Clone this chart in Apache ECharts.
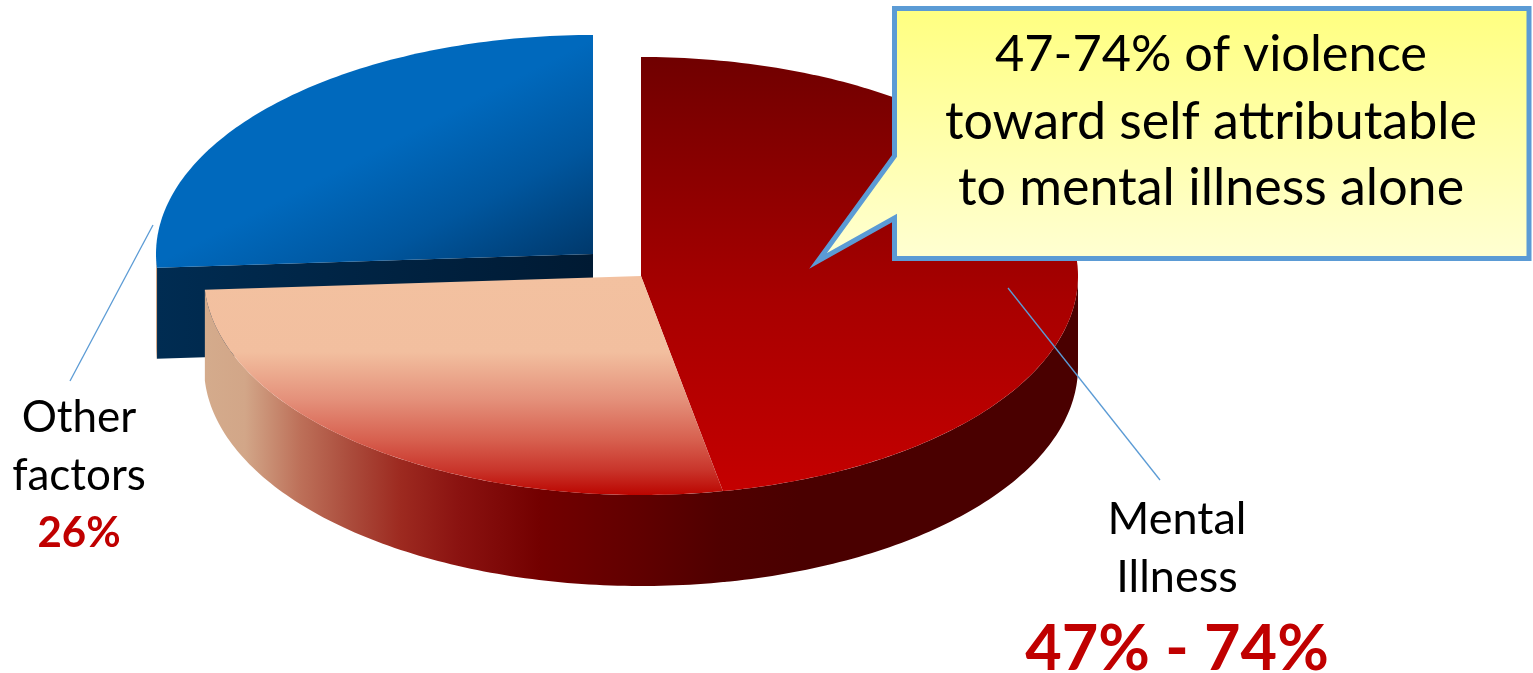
<!DOCTYPE html>
<html><head><meta charset="utf-8">
<style>html,body{margin:0;padding:0;background:#fff}#c{width:1533px;height:673px}</style>
<script src="https://cdn.jsdelivr.net/npm/echarts@6/dist/echarts.min.js"></script>
</head><body><div id="c"></div>
<script>
const categories = ['Mental Illness', 'Attributable range', 'Other factors'];
const sliceValues = [47, 27, 26];
const calloutLines = ['47-74% of violence', 'toward self attributable', 'to mental illness alone'];
const mentalLabel = ['Mental', 'Illness'];
const mentalPct = '47% - 74%';
const otherLabel = ['Other', 'factors'];
const otherPct = '26%';

const FONT = 'Lato';
const pie = {cx: 641, cy: 276, rx: 437, ry: 219, depth: 91};
const explode = [{dx: 0, dy: 0}, {dx: 0, dy: 0}, {dx: -48, dy: -22}];
const LG = echarts.graphic.LinearGradient;
const stopsY = (y0, y1, arr) => arr.map(a => ({offset: (a[0] - y0) / (y1 - y0), color: a[1]}));

const sideFill = () => new LG(205, 0, 1078, 0, stopsY(205, 1078, [
  [205, '#d4ab8c'], [245, '#d2a688'], [300, '#bd7059'], [350, '#ab4c3c'], [400, '#9d2a20'],
  [460, '#8a1210'], [540, '#730000'], [640, '#600000'], [720, '#500000'], [800, '#4a0000'], [1078, '#4a0000']
]), true);
const topFills = [
  new LG(0, 57, 0, 490, stopsY(57, 490, [[57, '#700000'], [300, '#a80000'], [490, '#c40000']]), true),
  new LG(0, 276, 0, 495, stopsY(276, 495, [
    [276, '#f3c1a0'], [352, '#f2bf9f'], [400, '#e4907a'], [440, '#d7604f'], [470, '#c9352b'], [495, '#bb0500']
  ]), true),
  new LG(590, 40, 676, 207, [{offset: 0, color: '#0069bd'}, {offset: 0.5, color: '#00569e'}, {offset: 1, color: '#003a6e'}], true)
];
const wallBlue = new LG(157, 0, 593, 0, [{offset: 0, color: '#002c52'}, {offset: 1, color: '#001a33'}], true);

function arcPts(cx, cy, a0, a1) {
  const pts = [], n = Math.max(2, Math.ceil((a1 - a0) * 60));
  for (let i = 0; i <= n; i++) {
    const a = a0 + (a1 - a0) * i / n;
    pts.push([cx + pie.rx * Math.sin(a), cy - pie.ry * Math.cos(a)]);
  }
  return pts;
}
const total = sliceValues.reduce((s, v) => s + v, 0);

function renderSlice(params, api) {
  const i = params.dataIndex;
  const before = sliceValues.slice(0, i).reduce((s, v) => s + v, 0);
  const a0 = before / total * 2 * Math.PI;
  const a1 = (before + api.value(0)) / total * 2 * Math.PI;
  const cx = pie.cx + explode[i].dx, cy = pie.cy + explode[i].dy;
  const children = [];
  const base = i === 2 ? 0 : 10;

  // outer wall: only the front half of the rim is visible (slight overlap hides the seam)
  const w0 = Math.max(a0 - 0.006, Math.PI / 2), w1 = Math.min(a1, Math.PI * 1.5);
  if (w1 > w0) {
    const rim = arcPts(cx, cy, w0, w1);
    const low = rim.map(p => [p[0], p[1] + pie.depth]).reverse();
    children.push({type: 'polygon', z2: base + i, shape: {points: rim.concat(low)},
      style: {fill: sideFill()}});
  }
  // cut face of the exploded slice
  if (i === 2) {
    const e = arcPts(cx, cy, a0, a0)[0];
    children.push({type: 'polygon', z2: base + 1, shape: {points: [
      e, [cx, cy], [cx, cy + pie.depth], [e[0], e[1] + pie.depth]
    ]}, style: {fill: wallBlue}});
  }
  // top face
  children.push({type: 'polygon', z2: base + 5,
    shape: {points: [[cx, cy]].concat(arcPts(cx, cy, a0, a1))},
    style: {fill: topFills[i]}});
  return {type: 'group', children};
}

const txt = (text, x, y, size, opts) => ({
  type: 'text', z: 100, x, y,
  style: Object.assign({text, fill: '#000', fontFamily: FONT, fontSize: size,
    align: 'center', verticalAlign: 'middle'}, opts || {})
});
const RED = '#c00000', LINE = '#5b9bd5';

const graphics = [
  {type: 'line', z: 90, shape: {x1: 153, y1: 225, x2: 70, y2: 381}, style: {stroke: LINE, lineWidth: 1.3}},
  {type: 'line', z: 90, shape: {x1: 1008, y1: 288, x2: 1160, y2: 480}, style: {stroke: LINE, lineWidth: 1.3}},
  {type: 'polygon', z: 95,
    shape: {points: [[894.5, 8.5], [1529, 8.5], [1529, 258.5], [894.5, 258.5], [894.5, 218], [818, 261], [894.5, 156]]},
    style: {
      fill: new LG(0, 8, 0, 258, [{offset: 0, color: '#ffff80'}, {offset: 1, color: '#ffffd2'}], true),
      stroke: LINE, lineWidth: 5, lineJoin: 'miter', miterLimit: 10
    }},
  txt(calloutLines[0], 1211, 55, 50.5),
  txt(calloutLines[1], 1211, 122, 52),
  txt(calloutLines[2], 1211, 188, 52),
  txt(otherLabel[0], 79, 418, 44),
  txt(otherLabel[1], 79, 476, 44),
  txt(otherPct, 79, 533, 42, {fill: RED, fontWeight: 'bold'}),
  txt(mentalLabel[0], 1177, 519, 45),
  txt(mentalLabel[1], 1177, 577, 45),
  txt(mentalPct, 1177, 650, 63, {fill: RED, fontWeight: 'bold'})
];

const chart = echarts.init(document.getElementById('c'), null, {renderer: 'canvas'});
chart.setOption({
  animation: false,
  backgroundColor: '#fff',
  graphic: {elements: graphics},
  series: [{
    type: 'custom',
    coordinateSystem: 'none',
    renderItem: renderSlice,
    silent: true,
    data: sliceValues.map((v, i) => ({name: categories[i], value: [v]}))
  }]
});
</script></body></html>
